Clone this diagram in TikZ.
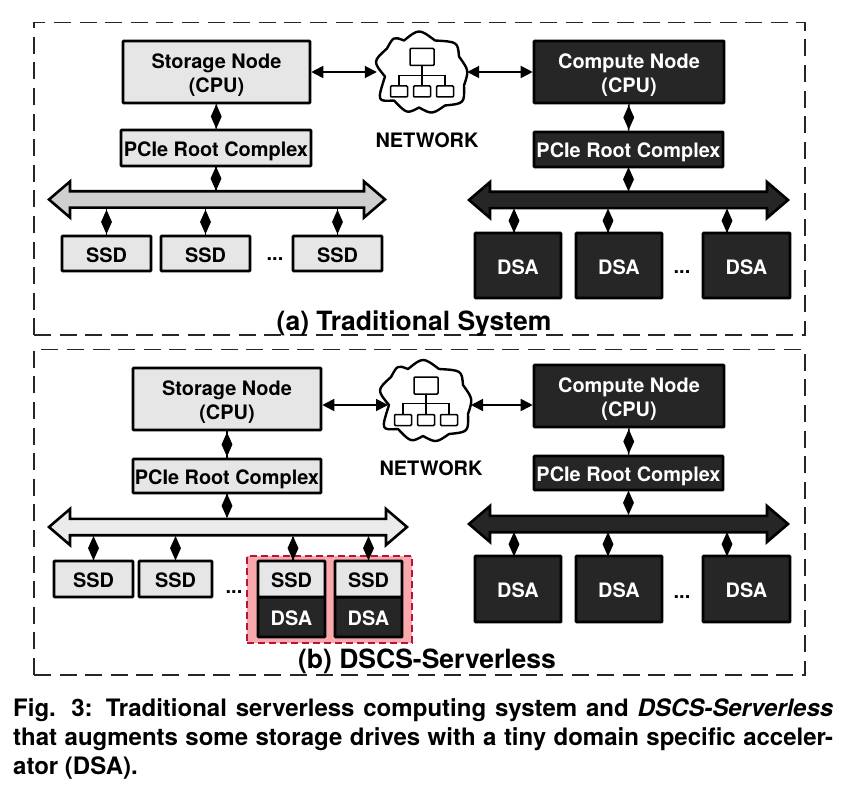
\documentclass[tikz,border=0pt]{standalone}
\usepackage{fontspec}
\setmainfont{TeX Gyre Heros}
\usetikzlibrary{arrows.meta,shapes.geometric,calc}
\definecolor{lgt}{HTML}{E6E6E6}
\definecolor{drk}{HTML}{262626}
\definecolor{busa}{HTML}{CFCFCF}
\definecolor{busb}{HTML}{EBEBEB}
\definecolor{redfill}{HTML}{F9A9AB}
\definecolor{reddash}{HTML}{B5153C}
\tikzset{
  x=1pt,y=-1pt,
  lbox/.style={draw=black,line width=2.6pt,fill=lgt,rounded corners=0.6pt,inner sep=0pt,font=\fontsize{19.9}{24}\selectfont\bfseries,align=center,text=black},
  dbox/.style={draw=black,line width=2.6pt,fill=drk,rounded corners=0.6pt,inner sep=0pt,font=\fontsize{19.9}{24}\selectfont\bfseries,align=center,text=white},
  frame/.style={draw=black!85,line width=1.9pt,dash pattern=on 17pt off 8.6pt},
  wire/.style={draw=black,line width=1.5pt},
  dmd/.style={diamond,fill=black,draw=none,inner sep=0pt,minimum width=11.5pt,minimum height=25pt},
  netlink/.style={draw=black,line width=1.8pt,{Triangle[length=12pt,width=12pt]}-{Triangle[length=12pt,width=12pt]}},
  shaft/.style={inner sep=0pt,minimum height=19pt},
  cloudn/.style={inner sep=0pt,minimum width=90pt,minimum height=81pt},
  netbox/.style={draw=black,line width=1.5pt,fill=white,rounded corners=1pt,inner sep=0pt},
  netwire/.style={draw=black,line width=1.3pt},
  lbl/.style={font=\fontsize{19.9}{24}\selectfont\bfseries},
  captxt/.style={font=\fontsize{26.5}{30}\selectfont\bfseries,anchor=base},
}
\newcommand{\mkbus}[5]{%
  \node[shaft,minimum width={(#3)-(#2)}] (#1) at ({((#2)+(#3))/2},#4) {};
  \draw[line width=2.6pt,draw=black,fill=#5,line join=miter]
    ({(#2)+2},#4) -- ({(#2)+23},{(#4)-18}) -- ({(#2)+23},{(#4)-8.2}) -- ({(#3)-23},{(#4)-8.2})
    -- ({(#3)-23},{(#4)-18}) -- ({(#3)-2},#4) -- ({(#3)-23},{(#4)+18}) -- ({(#3)-23},{(#4)+8.2})
    -- ({(#2)+23},{(#4)+8.2}) -- ({(#2)+23},{(#4)+18}) -- cycle;}
\newcommand{\mkbox}[7]{% name style x1 x2 y1 y2 text
  \node[#2,minimum width={(#4)-(#3)},minimum height={(#6)-(#5)}] (#1) at ({((#3)+(#4))/2},{((#5)+(#6))/2})
    {\raisebox{-3.7pt}[\height][\depth]{\begin{tabular}{@{}c@{}}#7\end{tabular}}};}
\newcommand{\mklink}[3]{% name from to
  \draw[wire] (#2) -- node[dmd] (#1) {} (#3);}
\newcommand{\mkcloud}[3]{% name x y
  \node[cloudn] (#1) at (#2,#3) {};
  \begin{scope}[shift={(#1.center)}]
  \draw[draw=black,line width=2.4pt,fill=white,line join=round]
    (-37,4) .. controls (-49.3,-11) .. (-35,-24)
    .. controls (-28.5,-36) .. (-18,-32)
    .. controls (-3,-44) .. (13,-32)
    .. controls (35.7,-30.7) .. (37,-16)
    .. controls (47,-2) .. (42,13)
    .. controls (42.5,31) .. (23,33)
    .. controls (10,42) .. (-3,35)
    .. controls (-15,41.5) .. (-28,28)
    .. controls (-45,29) .. cycle;
  \end{scope}
  \node[netbox,minimum width=24pt,minimum height=17pt] (#1t) at ($(#1)+(0,-15.5)$) {};
  \node[netbox,minimum width=17pt,minimum height=11pt] (#1a) at ($(#1)+(-23,19)$) {};
  \node[netbox,minimum width=17pt,minimum height=11pt] (#1b) at ($(#1)+(0,19)$) {};
  \node[netbox,minimum width=17pt,minimum height=11pt] (#1c) at ($(#1)+(23,19)$) {};
  \draw[netwire] (#1t.south) -- (#1b.north);
  \draw[netwire] (#1a.north) -- ++(0,-10) -| (#1c.north);}
\begin{document}
\begin{tikzpicture}
\useasboundingbox (0,0) rectangle (856,810);
\fill[white] (0,0) rectangle (856,810);
% frames
\node[frame,minimum width=771pt,minimum height=312.5pt,inner sep=0pt] (fa) at (419.5,178.75) {};
\node[frame,minimum width=771pt,minimum height=325.5pt,inner sep=0pt] (fb) at (419.5,512.25) {};
% ===== (a)
\mkbox{sa}{lbox}{123}{310}{41}{103}{Storage Node\\(CPU)}
\mkbox{ca}{dbox}{534}{724}{41}{103}{Compute Node\\(CPU)}
\mkbox{pa}{lbox}{121}{311}{130}{166}{PCIe Root Complex}
\mkbox{qa}{dbox}{534}{723}{132}{167}{PCIe Root Complex}
\mkbus{ba}{47}{387}{199.5}{busa}
\mkbus{da}{467}{790}{200}{drk}
\mkbox{s1}{lbox}{62}{151}{236}{271}{SSD}
\mkbox{s2}{lbox}{161}{250}{236}{271}{SSD}
\mkbox{s3}{lbox}{293}{382}{236}{271}{SSD}
\mkbox{d1}{dbox}{475}{561}{233}{298}{DSA}
\mkbox{d2}{dbox}{576}{662}{233}{298}{DSA}
\mkbox{d3}{dbox}{703}{790}{233}{298}{DSA}
\node[lbl] (dota) at (275,259) {...};
\node[lbl] (dotb) at (682,272) {...};
\mkcloud{na}{422}{72.5}
\node[lbl] (nla) at (427,140) {NETWORK};
\node[captxt] (ta) at (414,330) {(a) Traditional System};
\draw[netlink] (sa.east) -- (na.west |- sa.east);
\draw[netlink] (na.east |- ca.west) -- (ca.west);
\mklink{m1}{sa.south}{pa.north}
\mklink{m2}{ca.south}{qa.north}
\mklink{m3}{pa.south}{ba.north -| pa.south}
\mklink{m4}{qa.south}{da.north -| qa.south}
\foreach \n in {s1,s2,s3} {\mklink{m\n}{ba.south -| \n.north}{\n.north}}
\coordinate (d1p) at ($(d1.north)+(-4,0)$);
\coordinate (d2p) at ($(d2.north)+(-11,0)$);
\coordinate (d3p) at ($(d3.north)+(-19.5,0)$);
\foreach \n in {d1,d2,d3} {\mklink{m\n}{da.south -| \n p}{\n p}}
% ===== (b)
\mkbox{sb}{lbox}{133}{321}{368}{430}{Storage Node\\(CPU)}
\mkbox{cb}{dbox}{534}{724}{365}{427}{Compute Node\\(CPU)}
\mkbox{pb}{lbox}{133}{321}{459}{493}{PCIe Root Complex}
\mkbox{qb}{dbox}{534}{723}{456}{490}{PCIe Root Complex}
\mkbus{bb}{47}{409}{527}{busb}
\mkbus{db}{467}{790}{524}{drk}
\node[draw=reddash,fill=redfill,line width=2pt,dash pattern=on 7pt off 4pt,minimum width=165pt,minimum height=87pt,inner sep=0pt] (hl) at (329.5,599.5) {};
\mkbox{t1}{lbox}{54}{133}{561}{597}{SSD}
\mkbox{t2}{lbox}{139}{212}{561}{597}{SSD}
\mkbox{u1}{dbox}{258}{325}{597}{637}{DSA}
\mkbox{u2}{dbox}{335}{402}{597}{637}{DSA}
\mkbox{t3}{lbox}{258}{325}{561}{597}{SSD}
\mkbox{t4}{lbox}{335}{402}{561}{597}{SSD}
\mkbox{e1}{dbox}{475}{561}{556}{622}{DSA}
\mkbox{e2}{dbox}{576}{662}{556}{622}{DSA}
\mkbox{e3}{dbox}{703}{790}{556}{622}{DSA}
\node[lbl] (dotc) at (234,592) {...};
\node[lbl] (dotd) at (682,597) {...};
\mkcloud{nb}{426}{401}
\coordinate (nbl) at (388,405);
\coordinate (nbr) at (471,405);
\node[lbl] (nlb) at (431,468) {NETWORK};
\node[captxt] (tb) at (427,668) {(b) DSCS-Serverless};
\draw[netlink] (sb.east |- nbl) -- (nbl);
\draw[netlink] (nbr) -- (cb.west |- nbr);
\mklink{m5}{sb.south}{pb.north}
\mklink{m6}{cb.south}{qb.north}
\mklink{m7}{pb.south}{bb.north -| pb.south}
\mklink{m8}{qb.south}{db.north -| qb.south}
\coordinate (t1p) at (t1.north);
\coordinate (t2p) at (t2.north);
\coordinate (t3p) at ($(t3.north)+(1.5,0)$);
\coordinate (t4p) at (t4.north);
\foreach \n in {t1,t2,t3,t4} {\mklink{m\n}{bb.south -| \n p}{\n p}}
\coordinate (e1p) at ($(e1.north)+(-4,0)$);
\coordinate (e2p) at ($(e2.north)+(-11,0)$);
\coordinate (e3p) at ($(e3.north)+(-19.5,0)$);
\foreach \n in {e1,e2,e3} {\mklink{m\n}{db.south -| \n p}{\n p}}
% caption
\node[anchor=north west,inner sep=0pt,text width=820pt,align=justify,font=\fontsize{24}{29}\selectfont\bfseries] (caption) at (13,698)
 {Fig. 3: Traditional serverless computing system and \textit{DSCS-Serverless}\linebreak that augments some storage drives with a tiny domain specific acceler-\linebreak ator (DSA).};
\end{tikzpicture}
\end{document}
